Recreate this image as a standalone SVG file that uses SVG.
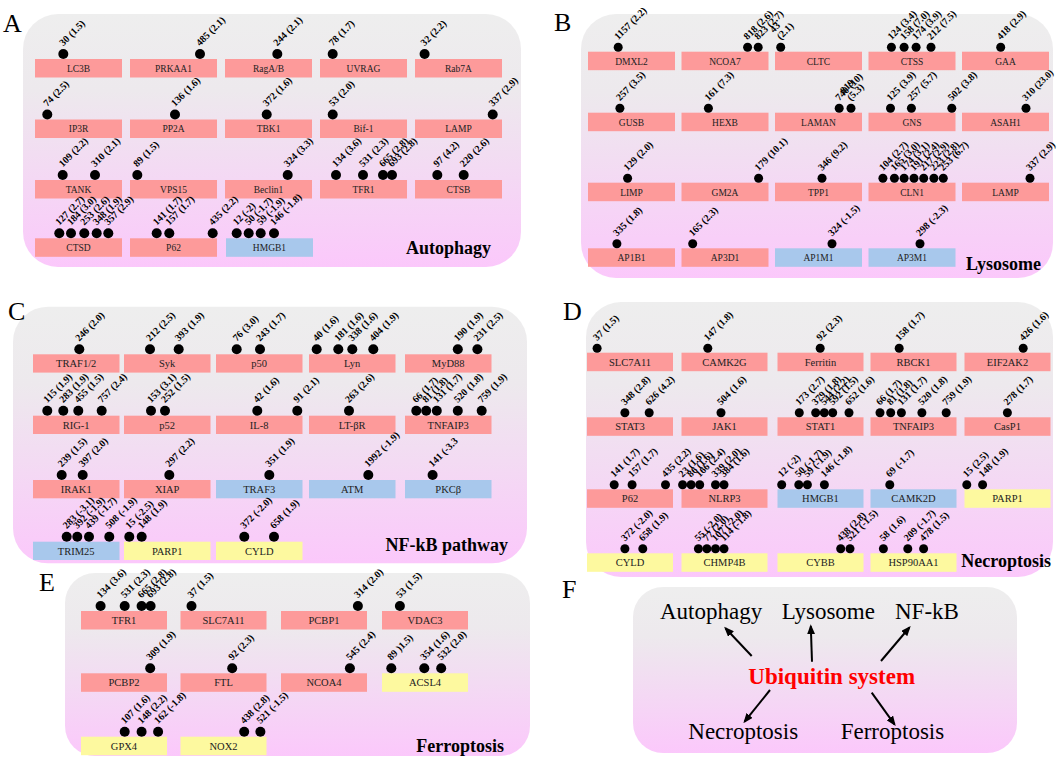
<svg xmlns="http://www.w3.org/2000/svg" width="1059" height="758" viewBox="0 0 1059 758">
<defs>
<linearGradient id="pg" x1="0" y1="0" x2="0" y2="1">
<stop offset="0" stop-color="#eeeeee"/>
<stop offset="0.3" stop-color="#ede9ed"/>
<stop offset="1" stop-color="#fbc8fb"/>
</linearGradient>
<marker id="ah" viewBox="0 0 10 8" refX="8" refY="4" markerWidth="10" markerHeight="8" markerUnits="userSpaceOnUse" orient="auto">
<path d="M0,0 L10,4 L0,8 z" fill="#000"/>
</marker>
<style>
.pn{fill:url(#pg)}
.r{fill:#fd9a9a}.b{fill:#a8c8ec}.y{fill:#fdf99f}
.g{font-family:"Liberation Serif","Times New Roman",serif;font-size:9.5px;text-anchor:middle;fill:#222}
.g2{font-size:10.5px}
.l{font-family:"Liberation Serif","Times New Roman",serif;font-size:10px;font-weight:bold;fill:#000}
.d{fill:#000}
.t{font-family:"Liberation Serif","Times New Roman",serif;font-weight:bold;font-size:18px;text-anchor:end;fill:#000}
.L{font-family:"Liberation Serif","Times New Roman",serif;font-size:26px;fill:#000}
.f{font-family:"Liberation Serif","Times New Roman",serif;font-size:23px;fill:#000}
.u{font-family:"Liberation Serif","Times New Roman",serif;font-size:23px;font-weight:bold;fill:#ff0000}
.c{stroke:#000;stroke-width:2;fill:none;marker-end:url(#ah)}
</style>
</defs>

<!-- Panel A -->
<g id="panelA">
<rect class="pn" x="23" y="14" width="498" height="253" rx="35"/>
<text class="L" x="3" y="32">A</text>
<text class="t" x="491" y="254">Autophagy</text>
<g id="A-LC3B"><rect class="r" x="35" y="59" width="87" height="18.5"/><text class="g" x="78.5" y="71.8">LC3B</text><circle class="d" cx="63.3" cy="54" r="5"/><text class="l" transform="translate(63.3,46.5) rotate(-45)">30 (1.5)</text></g>
<g id="A-PRKAA1"><rect class="r" x="130" y="59" width="87" height="18.5"/><text class="g" x="173.5" y="71.8">PRKAA1</text><circle class="d" cx="200" cy="54" r="5"/><text class="l" transform="translate(200,46.5) rotate(-45)">485 (2.1)</text></g>
<g id="A-RagAB"><rect class="r" x="225" y="59" width="87" height="18.5"/><text class="g" x="268.5" y="71.8">RagA/B</text><circle class="d" cx="277.3" cy="54" r="5"/><text class="l" transform="translate(277.3,46.5) rotate(-45)">244 (2.1)</text></g>
<g id="A-UVRAG"><rect class="r" x="320" y="59" width="87" height="18.5"/><text class="g" x="363.5" y="71.8">UVRAG</text><circle class="d" cx="332.7" cy="54" r="5"/><text class="l" transform="translate(332.7,46.5) rotate(-45)">78 (1.7)</text></g>
<g id="A-Rab7A"><rect class="r" x="415" y="59" width="87" height="18.5"/><text class="g" x="458.5" y="71.8">Rab7A</text><circle class="d" cx="424.6" cy="54" r="5"/><text class="l" transform="translate(424.6,46.5) rotate(-45)">32 (2.2)</text></g>

<g id="A-IP3R"><rect class="r" x="35" y="119.5" width="87" height="18.5"/><text class="g" x="78.5" y="132.3">IP3R</text><circle class="d" cx="47.3" cy="114.5" r="5"/><text class="l" transform="translate(47.3,107) rotate(-45)">74 (2.5)</text></g>
<g id="A-PP2A"><rect class="r" x="130" y="119.5" width="87" height="18.5"/><text class="g" x="173.5" y="132.3">PP2A</text><circle class="d" cx="175" cy="114.5" r="5"/><text class="l" transform="translate(175,107) rotate(-45)">136 (1.6)</text></g>
<g id="A-TBK1"><rect class="r" x="225" y="119.5" width="87" height="18.5"/><text class="g" x="268.5" y="132.3">TBK1</text><circle class="d" cx="266.7" cy="114.5" r="5"/><text class="l" transform="translate(266.7,107) rotate(-45)">372 (1.6)</text></g>
<g id="A-Bif1"><rect class="r" x="320" y="119.5" width="87" height="18.5"/><text class="g" x="363.5" y="132.3">Bif-1</text><circle class="d" cx="332.7" cy="114.5" r="5"/><text class="l" transform="translate(332.7,107) rotate(-45)">53 (2.0)</text></g>
<g id="A-LAMP"><rect class="r" x="415" y="119.5" width="87" height="18.5"/><text class="g" x="458.5" y="132.3">LAMP</text><circle class="d" cx="492.7" cy="114.5" r="5"/><text class="l" transform="translate(492.7,107) rotate(-45)">337 (2.9)</text></g>

<g id="A-TANK"><rect class="r" x="35" y="180" width="87" height="18.5"/><text class="g" x="78.5" y="192.8">TANK</text>
<circle class="d" cx="62.7" cy="175" r="5"/><text class="l" transform="translate(62.7,167.5) rotate(-45)">109 (2.2)</text>
<circle class="d" cx="95" cy="175" r="5"/><text class="l" transform="translate(95,167.5) rotate(-45)">310 (2.1)</text></g>
<g id="A-VPS15"><rect class="r" x="130" y="180" width="87" height="18.5"/><text class="g" x="173.5" y="192.8">VPS15</text><circle class="d" cx="137.3" cy="175" r="5"/><text class="l" transform="translate(137.3,167.5) rotate(-45)">89 (1.5)</text></g>
<g id="A-Beclin1"><rect class="r" x="225" y="180" width="87" height="18.5"/><text class="g" x="268.5" y="192.8">Beclin1</text><circle class="d" cx="287.7" cy="175" r="5"/><text class="l" transform="translate(287.7,167.5) rotate(-45)">324 (3.3)</text></g>
<g id="A-TFR1"><rect class="r" x="320" y="180" width="87" height="18.5"/><text class="g" x="363.5" y="192.8">TFR1</text>
<circle class="d" cx="336" cy="175" r="5"/><text class="l" transform="translate(336,167.5) rotate(-45)">134 (3.6)</text>
<circle class="d" cx="363" cy="175" r="5"/><text class="l" transform="translate(363,167.5) rotate(-45)">531 (2.3)</text>
<circle class="d" cx="383" cy="175" r="5"/><text class="l" transform="translate(383,167.5) rotate(-45)">665 (2.8)</text>
<circle class="d" cx="392" cy="175" r="5"/><text class="l" transform="translate(392,167.5) rotate(-45)">693 (2.8)</text></g>
<g id="A-CTSB"><rect class="r" x="415" y="180" width="87" height="18.5"/><text class="g" x="458.5" y="192.8">CTSB</text>
<circle class="d" cx="437.3" cy="175" r="5"/><text class="l" transform="translate(437.3,167.5) rotate(-45)">97 (4.2)</text>
<circle class="d" cx="463.7" cy="175" r="5"/><text class="l" transform="translate(463.7,167.5) rotate(-45)">220 (2.6)</text></g>

<g id="A-CTSD"><rect class="r" x="35" y="238.3" width="87" height="18.5"/><text class="g" x="78.5" y="251.1">CTSD</text>
<circle class="d" cx="59.3" cy="233.3" r="5"/><text class="l" transform="translate(59.3,225.8) rotate(-45)">127 (2.7)</text>
<circle class="d" cx="71" cy="233.3" r="5"/><text class="l" transform="translate(71,225.8) rotate(-45)">184 (3.0)</text>
<circle class="d" cx="84.3" cy="233.3" r="5"/><text class="l" transform="translate(84.3,225.8) rotate(-45)">253 (2.6)</text>
<circle class="d" cx="96.7" cy="233.3" r="5"/><text class="l" transform="translate(96.7,225.8) rotate(-45)">348 (1.9)</text>
<circle class="d" cx="108.3" cy="233.3" r="5"/><text class="l" transform="translate(108.3,225.8) rotate(-45)">357 (2.9)</text></g>
<g id="A-P62"><rect class="r" x="130" y="238.3" width="87" height="18.5"/><text class="g" x="173.5" y="251.1">P62</text>
<circle class="d" cx="156.7" cy="233.3" r="5"/><text class="l" transform="translate(156.7,225.8) rotate(-45)">141 (1.7)</text>
<circle class="d" cx="169.3" cy="233.3" r="5"/><text class="l" transform="translate(169.3,225.8) rotate(-45)">157 (1.7)</text>
<circle class="d" cx="212.7" cy="233.3" r="5"/><text class="l" transform="translate(212.7,225.8) rotate(-45)">435 (2.2)</text></g>
<g id="A-HMGB1"><rect class="b" x="226" y="238.3" width="87" height="18.5"/><text class="g" x="269.5" y="251.1">HMGB1</text>
<circle class="d" cx="236.7" cy="233.3" r="5"/><text class="l" transform="translate(236.7,225.8) rotate(-45)">12 (-2)</text>
<circle class="d" cx="248.7" cy="233.3" r="5"/><text class="l" transform="translate(248.7,225.8) rotate(-45)">50 (-1.7)</text>
<circle class="d" cx="260.7" cy="233.3" r="5"/><text class="l" transform="translate(260.7,225.8) rotate(-45)">59 (-1.9)</text>
<circle class="d" cx="274" cy="233.3" r="5"/><text class="l" transform="translate(274,225.8) rotate(-45)">146 (-1.8)</text></g>
</g>

<!-- Panel B -->
<g id="panelB">
<rect class="pn" x="581" y="14" width="472" height="264" rx="35"/>
<text class="L" x="554" y="31">B</text>
<text class="t" x="1041" y="270">Lysosome</text>
<g id="B-DMXL2"><rect class="r" x="588" y="51.7" width="87" height="18.5"/><text class="g" x="631.5" y="64.5">DMXL2</text><circle class="d" cx="618.2" cy="47.2" r="4.5"/><text class="l" transform="translate(618.2,40.2) rotate(-45)">1157 (2.2)</text></g>
<g id="B-NCOA7"><rect class="r" x="681.5" y="51.7" width="87" height="18.5"/><text class="g" x="725" y="64.5">NCOA7</text>
<circle class="d" cx="747.6" cy="47.2" r="4.5"/><text class="l" transform="translate(747.6,40.2) rotate(-45)">818 (2.6)</text>
<circle class="d" cx="758.2" cy="47.2" r="4.5"/><text class="l" transform="translate(758.2,40.2) rotate(-45)">823 (2.7)</text></g>
<g id="B-CLTC"><rect class="r" x="775" y="51.7" width="87" height="18.5"/><text class="g" x="818.5" y="64.5">CLTC</text>
<circle class="d" cx="780.7" cy="47.2" r="4.5"/><text class="l" transform="translate(780.7,40.2) rotate(-45)"><tspan x="0" y="-10">43</tspan><tspan x="0" y="0">(2.1)</tspan></text></g>
<g id="B-CTSS"><rect class="r" x="868.5" y="51.7" width="87" height="18.5"/><text class="g" x="912" y="64.5">CTSS</text>
<circle class="d" cx="891.4" cy="47.2" r="4.5"/><text class="l" transform="translate(891.4,40.2) rotate(-45)">124 (3.4)</text>
<circle class="d" cx="904.1" cy="47.2" r="4.5"/><text class="l" transform="translate(904.1,40.2) rotate(-45)">158 (7.0)</text>
<circle class="d" cx="916.1" cy="47.2" r="4.5"/><text class="l" transform="translate(916.1,40.2) rotate(-45)">174 (3.9)</text>
<circle class="d" cx="931" cy="47.2" r="4.5"/><text class="l" transform="translate(931,40.2) rotate(-45)">212 (7.5)</text></g>
<g id="B-GAA"><rect class="r" x="962" y="51.7" width="87" height="18.5"/><text class="g" x="1005.5" y="64.5">GAA</text><circle class="d" cx="1000.7" cy="47.2" r="4.5"/><text class="l" transform="translate(1000.7,40.2) rotate(-45)">418 (2.9)</text></g>

<g id="B-GUSB"><rect class="r" x="588" y="112.7" width="87" height="18.5"/><text class="g" x="631.5" y="125.5">GUSB</text><circle class="d" cx="619.9" cy="108.2" r="4.5"/><text class="l" transform="translate(619.9,101.2) rotate(-45)">257 (3.5)</text></g>
<g id="B-HEXB"><rect class="r" x="681.5" y="112.7" width="87" height="18.5"/><text class="g" x="725" y="125.5">HEXB</text><circle class="d" cx="708.4" cy="108.2" r="4.5"/><text class="l" transform="translate(708.4,101.2) rotate(-45)">161 (7.3)</text></g>
<g id="B-LAMAN"><rect class="r" x="775" y="112.7" width="87" height="18.5"/><text class="g" x="818.5" y="125.5">LAMAN</text>
<circle class="d" cx="839.2" cy="108.2" r="4.5"/><text class="l" transform="translate(839.2,101.2) rotate(-45)">740 (10)</text>
<circle class="d" cx="851" cy="108.2" r="4.5"/><text class="l" transform="translate(851,101.2) rotate(-45)"><tspan x="0" y="-10">819</tspan><tspan x="0" y="0">(5.3)</tspan></text></g>
<g id="B-GNS"><rect class="r" x="868.5" y="112.7" width="87" height="18.5"/><text class="g" x="912" y="125.5">GNS</text>
<circle class="d" cx="890.5" cy="108.2" r="4.5"/><text class="l" transform="translate(890.5,101.2) rotate(-45)">125 (3.9)</text>
<circle class="d" cx="911.4" cy="108.2" r="4.5"/><text class="l" transform="translate(911.4,101.2) rotate(-45)">257 (5.7)</text>
<circle class="d" cx="951.8" cy="108.2" r="4.5"/><text class="l" transform="translate(951.8,101.2) rotate(-45)">502 (3.8)</text></g>
<g id="B-ASAH1"><rect class="r" x="962" y="112.7" width="87" height="18.5"/><text class="g" x="1005.5" y="125.5">ASAH1</text><circle class="d" cx="1026" cy="108.2" r="4.5"/><text class="l" style="font-size:9.5px" transform="translate(1026,101.2) rotate(-45)">310 (23.0)</text></g>

<g id="B-LIMP"><rect class="r" x="588" y="182.7" width="87" height="18.5"/><text class="g" x="631.5" y="195.5">LIMP</text><circle class="d" cx="627.6" cy="178.2" r="4.5"/><text class="l" transform="translate(627.6,171.2) rotate(-45)">129 (2.0)</text></g>
<g id="B-GM2A"><rect class="r" x="681.5" y="182.7" width="87" height="18.5"/><text class="g" x="725" y="195.5">GM2A</text><circle class="d" cx="758.6" cy="178.2" r="4.5"/><text class="l" transform="translate(758.6,171.2) rotate(-45)">179 (10.1)</text></g>
<g id="B-TPP1"><rect class="r" x="775" y="182.7" width="87" height="18.5"/><text class="g" x="818.5" y="195.5">TPP1</text><circle class="d" cx="822" cy="178.2" r="4.5"/><text class="l" transform="translate(822,171.2) rotate(-45)">346 (9.2)</text></g>
<g id="B-CLN1"><rect class="r" x="868.5" y="182.7" width="87" height="18.5"/><text class="g" x="912" y="195.5">CLN1</text>
<circle class="d" cx="882.9" cy="178.2" r="4.5"/><text class="l" transform="translate(882.9,171.2) rotate(-45)">104 (2.7)</text>
<circle class="d" cx="894.4" cy="178.2" r="4.5"/><text class="l" transform="translate(894.4,171.2) rotate(-45)">165 (3.0)</text>
<circle class="d" cx="904.1" cy="178.2" r="4.5"/><text class="l" transform="translate(904.1,171.2) rotate(-45)">174 (3.1)</text>
<circle class="d" cx="914" cy="178.2" r="4.5"/><text class="l" transform="translate(914,171.2) rotate(-45)">191 (2.4)</text>
<circle class="d" cx="923.7" cy="178.2" r="4.5"/><text class="l" transform="translate(923.7,171.2) rotate(-45)">217 (2.9)</text>
<circle class="d" cx="933.9" cy="178.2" r="4.5"/><text class="l" transform="translate(933.9,171.2) rotate(-45)">223 (2.8)</text>
<circle class="d" cx="943.3" cy="178.2" r="4.5"/><text class="l" transform="translate(943.3,171.2) rotate(-45)">253 (6.7)</text></g>
<g id="B-LAMP"><rect class="r" x="962" y="182.7" width="87" height="18.5"/><text class="g" x="1005.5" y="195.5">LAMP</text><circle class="d" cx="1030" cy="178.2" r="4.5"/><text class="l" transform="translate(1030,171.2) rotate(-45)">337 (2.9)</text></g>

<g id="B-AP1B1"><rect class="r" x="588" y="248.3" width="87" height="18.5"/><text class="g" x="631.5" y="261.1">AP1B1</text><circle class="d" cx="616.9" cy="243.8" r="4.5"/><text class="l" transform="translate(616.9,236.8) rotate(-45)">335 (1.8)</text></g>
<g id="B-AP3D1"><rect class="r" x="681.5" y="248.3" width="87" height="18.5"/><text class="g" x="725" y="261.1">AP3D1</text><circle class="d" cx="692.7" cy="243.8" r="4.5"/><text class="l" transform="translate(692.7,236.8) rotate(-45)">165 (2.3)</text></g>
<g id="B-AP1M1"><rect class="b" x="775" y="248.3" width="87" height="18.5"/><text class="g" x="818.5" y="261.1">AP1M1</text><circle class="d" cx="832" cy="243.8" r="4.5"/><text class="l" transform="translate(832,236.8) rotate(-45)">324 (-1.5)</text></g>
<g id="B-AP3M1"><rect class="b" x="868.5" y="248.3" width="87" height="18.5"/><text class="g" x="912" y="261.1">AP3M1</text><circle class="d" cx="920" cy="243.8" r="4.5"/><text class="l" transform="translate(920,236.8) rotate(-45)">298 (-2.3)</text></g>
</g>

<!-- Panel C -->
<g id="panelC">
<rect class="pn" x="13" y="306.7" width="514" height="256.6" rx="35"/>
<text class="L" x="8" y="320">C</text>
<text class="t" x="508" y="551">NF-kB pathway</text>
<g id="C-TRAF12"><rect class="r" x="33" y="354.3" width="86.5" height="18.3"/><text class="g g2" x="76.2" y="367.3">TRAF1/2</text><circle class="d" cx="79.3" cy="349.3" r="5"/><text class="l" transform="translate(79.3,341.8) rotate(-45)">246 (2.0)</text></g>
<g id="C-Syk"><rect class="r" x="124" y="354.3" width="86.5" height="18.3"/><text class="g g2" x="167.2" y="367.3">Syk</text>
<circle class="d" cx="150" cy="349.3" r="5"/><text class="l" transform="translate(150,341.8) rotate(-45)">212 (2.5)</text>
<circle class="d" cx="178.7" cy="349.3" r="5"/><text class="l" transform="translate(178.7,341.8) rotate(-45)">393 (1.9)</text></g>
<g id="C-p50"><rect class="r" x="216" y="354.3" width="86.5" height="18.3"/><text class="g g2" x="259.2" y="367.3">p50</text>
<circle class="d" cx="236.7" cy="349.3" r="5"/><text class="l" transform="translate(236.7,341.8) rotate(-45)">76 (3.0)</text>
<circle class="d" cx="260" cy="349.3" r="5"/><text class="l" transform="translate(260,341.8) rotate(-45)">243 (1.7)</text></g>
<g id="C-Lyn"><rect class="r" x="309" y="354.3" width="86.5" height="18.3"/><text class="g g2" x="352.2" y="367.3">Lyn</text>
<circle class="d" cx="316.7" cy="349.3" r="5"/><text class="l" transform="translate(316.7,341.8) rotate(-45)">40 (1.6)</text>
<circle class="d" cx="338.3" cy="349.3" r="5"/><text class="l" transform="translate(338.3,341.8) rotate(-45)">181 (1.6)</text>
<circle class="d" cx="352.3" cy="349.3" r="5"/><text class="l" transform="translate(352.3,341.8) rotate(-45)">338 (1.6)</text>
<circle class="d" cx="373.3" cy="349.3" r="5"/><text class="l" transform="translate(373.3,341.8) rotate(-45)">404 (1.9)</text></g>
<g id="C-MyD88"><rect class="r" x="405" y="354.3" width="86.5" height="18.3"/><text class="g g2" x="448.2" y="367.3">MyD88</text>
<circle class="d" cx="457.8" cy="349.3" r="5"/><text class="l" transform="translate(457.8,341.8) rotate(-45)">190 (1.9)</text>
<circle class="d" cx="477.4" cy="349.3" r="5"/><text class="l" transform="translate(477.4,341.8) rotate(-45)">231 (2.5)</text></g>

<g id="C-RIG1"><rect class="r" x="33" y="415.7" width="86.5" height="18.3"/><text class="g g2" x="76.2" y="428.7">RIG-1</text>
<circle class="d" cx="47.3" cy="410.7" r="5"/><text class="l" transform="translate(47.3,403.2) rotate(-45)">115 (1.9)</text>
<circle class="d" cx="63.3" cy="410.7" r="5"/><text class="l" transform="translate(63.3,403.2) rotate(-45)">283 (1.9)</text>
<circle class="d" cx="78.3" cy="410.7" r="5"/><text class="l" transform="translate(78.3,403.2) rotate(-45)">455 (1.5)</text>
<circle class="d" cx="101.7" cy="410.7" r="5"/><text class="l" transform="translate(101.7,403.2) rotate(-45)">757 (2.4)</text></g>
<g id="C-p52"><rect class="r" x="124" y="415.7" width="86.5" height="18.3"/><text class="g g2" x="167.2" y="428.7">p52</text>
<circle class="d" cx="151" cy="410.7" r="5"/><text class="l" transform="translate(151,403.2) rotate(-45)">153 (3.1)</text>
<circle class="d" cx="165" cy="410.7" r="5"/><text class="l" transform="translate(165,403.2) rotate(-45)">252 (1.5)</text></g>
<g id="C-IL8"><rect class="r" x="216" y="415.7" width="86.5" height="18.3"/><text class="g g2" x="259.2" y="428.7">IL-8</text>
<circle class="d" cx="257.3" cy="410.7" r="5"/><text class="l" transform="translate(257.3,403.2) rotate(-45)">42 (1.6)</text>
<circle class="d" cx="297.3" cy="410.7" r="5"/><text class="l" transform="translate(297.3,403.2) rotate(-45)">91 (2.1)</text></g>
<g id="C-LTbR"><rect class="r" x="309" y="415.7" width="86.5" height="18.3"/><text class="g g2" x="352.2" y="428.7">LT-βR</text><circle class="d" cx="349" cy="410.7" r="5"/><text class="l" transform="translate(349,403.2) rotate(-45)">263 (2.6)</text></g>
<g id="C-TNFAIP3"><rect class="r" x="405" y="415.7" width="86.5" height="18.3"/><text class="g g2" x="448.2" y="428.7">TNFAIP3</text>
<circle class="d" cx="416.3" cy="410.7" r="5"/><text class="l" transform="translate(416.3,403.2) rotate(-45)">66 (1.7)</text>
<circle class="d" cx="426.2" cy="410.7" r="5"/><text class="l" transform="translate(426.2,403.2) rotate(-45)">81 (1.8)</text>
<circle class="d" cx="436.8" cy="410.7" r="5"/><text class="l" transform="translate(436.8,403.2) rotate(-45)">131 (1.7)</text>
<circle class="d" cx="457.8" cy="410.7" r="5"/><text class="l" transform="translate(457.8,403.2) rotate(-45)">520 (1.8)</text>
<circle class="d" cx="481.7" cy="410.7" r="5"/><text class="l" transform="translate(481.7,403.2) rotate(-45)">759 (1.9)</text></g>

<g id="C-IRAK1"><rect class="r" x="33" y="480" width="86.5" height="18.3"/><text class="g g2" x="76.2" y="493">IRAK1</text>
<circle class="d" cx="61.7" cy="475" r="5"/><text class="l" transform="translate(61.7,467.5) rotate(-45)">239 (1.5)</text>
<circle class="d" cx="82.7" cy="475" r="5"/><text class="l" transform="translate(82.7,467.5) rotate(-45)">397 (2.0)</text></g>
<g id="C-XIAP"><rect class="r" x="124" y="480" width="86.5" height="18.3"/><text class="g g2" x="167.2" y="493">XIAP</text><circle class="d" cx="169.3" cy="475" r="5"/><text class="l" transform="translate(169.3,467.5) rotate(-45)">297 (2.2)</text></g>
<g id="C-TRAF3"><rect class="b" x="216" y="480" width="86.5" height="18.3"/><text class="g g2" x="259.2" y="493">TRAF3</text><circle class="d" cx="269.3" cy="475" r="5"/><text class="l" transform="translate(269.3,467.5) rotate(-45)">351 (1.9)</text></g>
<g id="C-ATM"><rect class="b" x="309" y="480" width="86.5" height="18.3"/><text class="g g2" x="352.2" y="493">ATM</text><circle class="d" cx="368.3" cy="475" r="5"/><text class="l" transform="translate(368.3,467.5) rotate(-45)">1992 (-1.9)</text></g>
<g id="C-PKCb"><rect class="b" x="405" y="480" width="86.5" height="18.3"/><text class="g g2" x="448.2" y="493">PKCβ</text><circle class="d" cx="432.6" cy="475" r="5"/><text class="l" transform="translate(432.6,467.5) rotate(-45)">141 (-3.3</text></g>

<g id="C-TRIM25"><rect class="b" x="33" y="541.7" width="86.5" height="18.3"/><text class="g g2" x="76.2" y="554.7">TRIM25</text>
<circle class="d" cx="66.7" cy="536.7" r="5"/><text class="l" transform="translate(66.7,529.2) rotate(-45)">283 (-3.1)</text>
<circle class="d" cx="77.3" cy="536.7" r="5"/><text class="l" transform="translate(77.3,529.2) rotate(-45)">392 (-1.9)</text>
<circle class="d" cx="89" cy="536.7" r="5"/><text class="l" transform="translate(89,529.2) rotate(-45)">439 (-1.7)</text>
<circle class="d" cx="109.3" cy="536.7" r="5"/><text class="l" transform="translate(109.3,529.2) rotate(-45)">508 (-1.9)</text></g>
<g id="C-PARP1"><rect class="y" x="124" y="541.7" width="86.5" height="18.3"/><text class="g g2" x="167.2" y="554.7">PARP1</text>
<circle class="d" cx="129.3" cy="536.7" r="5"/><text class="l" transform="translate(129.3,529.2) rotate(-45)">15 (-2.5)</text>
<circle class="d" cx="141.7" cy="536.7" r="5"/><text class="l" transform="translate(141.7,529.2) rotate(-45)">148 (1.9)</text></g>
<g id="C-CYLD"><rect class="y" x="216" y="541.7" width="86.5" height="18.3"/><text class="g g2" x="259.2" y="554.7">CYLD</text>
<circle class="d" cx="244.3" cy="536.7" r="5"/><text class="l" transform="translate(244.3,529.2) rotate(-45)">372 (-2.0)</text>
<circle class="d" cx="274" cy="536.7" r="5"/><text class="l" transform="translate(274,529.2) rotate(-45)">658 (1.9)</text></g>
</g>

<!-- Panel D -->
<g id="panelD">
<rect class="pn" x="586" y="302" width="467" height="275" rx="35"/>
<text class="L" x="563" y="320">D</text>
<text class="t" x="1051" y="567">Necroptosis</text>
<g id="D-SLC7A11"><rect class="r" x="587" y="352.7" width="86" height="18.5"/><text class="g g2" x="630" y="365.7">SLC7A11</text><circle class="d" cx="597.1" cy="348.2" r="4.5"/><text class="l" transform="translate(597.1,341.2) rotate(-45)">37 (1.5)</text></g>
<g id="D-CAMK2G"><rect class="r" x="681.5" y="352.7" width="86" height="18.5"/><text class="g g2" x="724.5" y="365.7">CAMK2G</text><circle class="d" cx="707.8" cy="348.2" r="4.5"/><text class="l" transform="translate(707.8,341.2) rotate(-45)">147 (1.8)</text></g>
<g id="D-Ferritin"><rect class="r" x="777.5" y="352.7" width="86" height="18.5"/><text class="g g2" x="820.5" y="365.7">Ferritin</text><circle class="d" cx="820.2" cy="348.2" r="4.5"/><text class="l" transform="translate(820.2,341.2) rotate(-45)">92 (2.3)</text></g>
<g id="D-RBCK1"><rect class="r" x="870.5" y="352.7" width="86" height="18.5"/><text class="g g2" x="913.5" y="365.7">RBCK1</text><circle class="d" cx="899.2" cy="348.2" r="4.5"/><text class="l" transform="translate(899.2,341.2) rotate(-45)">158 (1.7)</text></g>
<g id="D-EIF2AK2"><rect class="r" x="964.5" y="352.7" width="86" height="18.5"/><text class="g g2" x="1007.5" y="365.7">EIF2AK2</text><circle class="d" cx="1023.2" cy="348.2" r="4.5"/><text class="l" transform="translate(1023.2,341.2) rotate(-45)">426 (1.6)</text></g>

<g id="D-STAT3"><rect class="r" x="587" y="417.3" width="86" height="18.5"/><text class="g g2" x="630" y="430.3">STAT3</text>
<circle class="d" cx="624.9" cy="412.8" r="4.5"/><text class="l" transform="translate(624.9,405.8) rotate(-45)">348 (2.8)</text>
<circle class="d" cx="649.2" cy="412.8" r="4.5"/><text class="l" transform="translate(649.2,405.8) rotate(-45)">626 (4.2)</text></g>
<g id="D-JAK1"><rect class="r" x="681.5" y="417.3" width="86" height="18.5"/><text class="g g2" x="724.5" y="430.3">JAK1</text><circle class="d" cx="721" cy="412.8" r="4.5"/><text class="l" transform="translate(721,405.8) rotate(-45)">504 (1.6)</text></g>
<g id="D-STAT1"><rect class="r" x="777.5" y="417.3" width="86" height="18.5"/><text class="g g2" x="820.5" y="430.3">STAT1</text>
<circle class="d" cx="799.3" cy="412.8" r="4.5"/><text class="l" transform="translate(799.3,405.8) rotate(-45)">173 (2.7)</text>
<circle class="d" cx="815.7" cy="412.8" r="4.5"/><text class="l" transform="translate(815.7,405.8) rotate(-45)">379 (1.8)</text>
<circle class="d" cx="824.3" cy="412.8" r="4.5"/><text class="l" transform="translate(824.3,405.8) rotate(-45)">544 (2.2)</text>
<circle class="d" cx="832.7" cy="412.8" r="4.5"/><text class="l" transform="translate(832.7,405.8) rotate(-45)">592 (1.5)</text>
<circle class="d" cx="849" cy="412.8" r="4.5"/><text class="l" transform="translate(849,405.8) rotate(-45)">652 (1.6)</text></g>
<g id="D-TNFAIP3"><rect class="r" x="870.5" y="417.3" width="86" height="18.5"/><text class="g g2" x="913.5" y="430.3">TNFAIP3</text>
<circle class="d" cx="880" cy="412.8" r="4.5"/><text class="l" transform="translate(880,405.8) rotate(-45)">66 (1.7)</text>
<circle class="d" cx="890.7" cy="412.8" r="4.5"/><text class="l" transform="translate(890.7,405.8) rotate(-45)">81 (1.8)</text>
<circle class="d" cx="901.4" cy="412.8" r="4.5"/><text class="l" transform="translate(901.4,405.8) rotate(-45)">131 (1.7)</text>
<circle class="d" cx="921.9" cy="412.8" r="4.5"/><text class="l" transform="translate(921.9,405.8) rotate(-45)">520 (1.8)</text>
<circle class="d" cx="946.2" cy="412.8" r="4.5"/><text class="l" transform="translate(946.2,405.8) rotate(-45)">759 (1.9)</text></g>
<g id="D-CasP1"><rect class="r" x="964.5" y="417.3" width="86" height="18.5"/><text class="g g2" x="1007.5" y="430.3">CasP1</text><circle class="d" cx="1007.4" cy="412.8" r="4.5"/><text class="l" transform="translate(1007.4,405.8) rotate(-45)">278 (1.7)</text></g>

<g id="D-P62"><rect class="r" x="587" y="489.3" width="86" height="18.5"/><text class="g g2" x="630" y="502.3">P62</text>
<circle class="d" cx="614.2" cy="484.8" r="4.5"/><text class="l" transform="translate(614.2,477.8) rotate(-45)">141 (1.7)</text>
<circle class="d" cx="632.1" cy="484.8" r="4.5"/><text class="l" transform="translate(632.1,477.8) rotate(-45)">157 (1.7)</text>
<circle class="d" cx="665.5" cy="484.8" r="4.5"/><text class="l" transform="translate(665.5,477.8) rotate(-45)">435 (2.2)</text></g>
<g id="D-NLRP3"><rect class="r" x="681.5" y="489.3" width="86" height="18.5"/><text class="g g2" x="724.5" y="502.3">NLRP3</text>
<circle class="d" cx="682.6" cy="484.8" r="4.5"/><text class="l" transform="translate(682.6,477.8) rotate(-45)">23 (1.6)</text>
<circle class="d" cx="691.1" cy="484.8" r="4.5"/><text class="l" transform="translate(691.1,477.8) rotate(-45)">86 (1.6)</text>
<circle class="d" cx="699.7" cy="484.8" r="4.5"/><text class="l" transform="translate(699.7,477.8) rotate(-45)">166 (2.4)</text>
<circle class="d" cx="715.5" cy="484.8" r="4.5"/><text class="l" transform="translate(715.5,477.8) rotate(-45)">339 (2.0)</text>
<circle class="d" cx="724" cy="484.8" r="4.5"/><text class="l" transform="translate(724,477.8) rotate(-45)">384 (1.6)</text></g>
<g id="D-HMGB1"><rect class="b" x="777.5" y="489.3" width="86" height="18.5"/><text class="g g2" x="820.5" y="502.3">HMGB1</text>
<circle class="d" cx="781.7" cy="484.8" r="4.5"/><text class="l" transform="translate(781.7,477.8) rotate(-45)">12 (-2)</text>
<circle class="d" cx="798.8" cy="484.8" r="4.5"/><text class="l" transform="translate(798.8,477.8) rotate(-45)">50 (-1.7)</text>
<circle class="d" cx="807.4" cy="484.8" r="4.5"/><text class="l" transform="translate(807.4,477.8) rotate(-45)">59 (-1.9)</text>
<circle class="d" cx="824.4" cy="484.8" r="4.5"/><text class="l" transform="translate(824.4,477.8) rotate(-45)">146 (-1.8)</text></g>
<g id="D-CAMK2D"><rect class="b" x="870.5" y="489.3" width="86" height="18.5"/><text class="g g2" x="913.5" y="502.3">CAMK2D</text><circle class="d" cx="889.8" cy="484.8" r="4.5"/><text class="l" transform="translate(889.8,477.8) rotate(-45)">69 (-1.7)</text></g>
<g id="D-PARP1"><rect class="y" x="964.5" y="489.3" width="86" height="18.5"/><text class="g g2" x="1007.5" y="502.3">PARP1</text>
<circle class="d" cx="966.8" cy="484.8" r="4.5"/><text class="l" transform="translate(966.8,477.8) rotate(-45)">15 (2.5)</text>
<circle class="d" cx="982.6" cy="484.8" r="4.5"/><text class="l" transform="translate(982.6,477.8) rotate(-45)">148 (1.9)</text></g>

<g id="D-CYLD"><rect class="y" x="587" y="553.3" width="86" height="18.5"/><text class="g g2" x="630" y="566.3">CYLD</text>
<circle class="d" cx="624.9" cy="548.8" r="4.5"/><text class="l" transform="translate(624.9,541.8) rotate(-45)">372 (-2.0)</text>
<circle class="d" cx="642.8" cy="548.8" r="4.5"/><text class="l" transform="translate(642.8,541.8) rotate(-45)">658 (1.9)</text></g>
<g id="D-CHMP4B"><rect class="y" x="681.5" y="553.3" width="86" height="18.5"/><text class="g g2" x="724.5" y="566.3">CHMP4B</text>
<circle class="d" cx="698.4" cy="548.8" r="4.5"/><text class="l" transform="translate(698.4,541.8) rotate(-45)">55 (-2.0)</text>
<circle class="d" cx="706.9" cy="548.8" r="4.5"/><text class="l" transform="translate(706.9,541.8) rotate(-45)">77 (2.0)</text>
<circle class="d" cx="715.5" cy="548.8" r="4.5"/><text class="l" transform="translate(715.5,541.8) rotate(-45)">107 (-2.0)</text>
<circle class="d" cx="724" cy="548.8" r="4.5"/><text class="l" transform="translate(724,541.8) rotate(-45)">114 (-1.8)</text></g>
<g id="D-CYBB"><rect class="y" x="777.5" y="553.3" width="86" height="18.5"/><text class="g g2" x="820.5" y="566.3">CYBB</text>
<circle class="d" cx="840.7" cy="548.8" r="4.5"/><text class="l" transform="translate(840.7,541.8) rotate(-45)">438 (2.8)</text>
<circle class="d" cx="850" cy="548.8" r="4.5"/><text class="l" transform="translate(850,541.8) rotate(-45)">521 (-1.5)</text></g>
<g id="D-HSP90AA1"><rect class="y" x="870.5" y="553.3" width="86" height="18.5"/><text class="g g2" x="913.5" y="566.3">HSP90AA1</text>
<circle class="d" cx="883.4" cy="548.8" r="4.5"/><text class="l" transform="translate(883.4,541.8) rotate(-45)">58 (1.6)</text>
<circle class="d" cx="907.8" cy="548.8" r="4.5"/><text class="l" transform="translate(907.8,541.8) rotate(-45)">209 (-1.7)</text>
<circle class="d" cx="923.6" cy="548.8" r="4.5"/><text class="l" transform="translate(923.6,541.8) rotate(-45)">478 (1.5)</text></g>
</g>

<!-- Panel E -->
<g id="panelE">
<rect class="pn" x="65" y="573" width="465" height="183" rx="30"/>
<text class="L" x="39" y="591">E</text>
<text class="t" x="504" y="752">Ferroptosis</text>
<g id="E-TFR1"><rect class="r" x="81" y="611" width="86" height="18.5"/><text class="g g2" x="124" y="624">TFR1</text>
<circle class="d" cx="100.6" cy="606" r="5"/><text class="l" transform="translate(100.6,598.5) rotate(-45)">134 (3.6)</text>
<circle class="d" cx="124.7" cy="606" r="5"/><text class="l" transform="translate(124.7,598.5) rotate(-45)">531 (2.3)</text>
<circle class="d" cx="141.6" cy="606" r="5"/><text class="l" transform="translate(141.6,598.5) rotate(-45)">665 (2.8)</text>
<circle class="d" cx="150.6" cy="606" r="5"/><text class="l" transform="translate(150.6,598.5) rotate(-45)">693 (2.8)</text></g>
<g id="E-SLC7A11"><rect class="r" x="180.5" y="611" width="86" height="18.5"/><text class="g g2" x="223.5" y="624">SLC7A11</text><circle class="d" cx="191.5" cy="606" r="5"/><text class="l" transform="translate(191.5,598.5) rotate(-45)">37 (1.5)</text></g>
<g id="E-PCBP1"><rect class="r" x="281" y="611" width="86" height="18.5"/><text class="g g2" x="324" y="624">PCBP1</text><circle class="d" cx="357.9" cy="606" r="5"/><text class="l" transform="translate(357.9,598.5) rotate(-45)">314 (2.0)</text></g>
<g id="E-VDAC3"><rect class="r" x="382" y="611" width="86" height="18.5"/><text class="g g2" x="425" y="624">VDAC3</text><circle class="d" cx="399.9" cy="606" r="5"/><text class="l" transform="translate(399.9,598.5) rotate(-45)">53 (1.5)</text></g>

<g id="E-PCBP2"><rect class="r" x="81" y="673.3" width="86" height="18.5"/><text class="g g2" x="124" y="686.3">PCBP2</text><circle class="d" cx="150.2" cy="668.3" r="5"/><text class="l" transform="translate(150.2,660.8) rotate(-45)">309 (1.9)</text></g>
<g id="E-FTL"><rect class="r" x="180.5" y="673.3" width="86" height="18.5"/><text class="g g2" x="223.5" y="686.3">FTL</text><circle class="d" cx="232.2" cy="668.3" r="5"/><text class="l" transform="translate(232.2,660.8) rotate(-45)">92 (2.3)</text></g>
<g id="E-NCOA4"><rect class="r" x="281" y="673.3" width="86" height="18.5"/><text class="g g2" x="324" y="686.3">NCOA4</text><circle class="d" cx="349.9" cy="668.3" r="5"/><text class="l" transform="translate(349.9,660.8) rotate(-45)">545 (2.4)</text></g>
<g id="E-ACSL4"><rect class="y" x="382" y="673.3" width="86" height="18.5"/><text class="g g2" x="425" y="686.3">ACSL4</text>
<circle class="d" cx="391.3" cy="668.3" r="5"/><text class="l" transform="translate(391.3,660.8) rotate(-45)">89 )1.5)</text>
<circle class="d" cx="424.3" cy="668.3" r="5"/><text class="l" transform="translate(424.3,660.8) rotate(-45)">354 (1.6)</text>
<circle class="d" cx="441.2" cy="668.3" r="5"/><text class="l" transform="translate(441.2,660.8) rotate(-45)">532 (2.0)</text></g>

<g id="E-GPX4"><rect class="y" x="81" y="736.7" width="86" height="18.5"/><text class="g g2" x="124" y="749.7">GPX4</text>
<circle class="d" cx="124.7" cy="731.7" r="5"/><text class="l" transform="translate(124.7,724.2) rotate(-45)">107 (1.6)</text>
<circle class="d" cx="141.6" cy="731.7" r="5"/><text class="l" transform="translate(141.6,724.2) rotate(-45)">148 (2.2)</text>
<circle class="d" cx="158.1" cy="731.7" r="5"/><text class="l" transform="translate(158.1,724.2) rotate(-45)">162 (-1.8)</text></g>
<g id="E-NOX2"><rect class="y" x="180.5" y="736.7" width="86" height="18.5"/><text class="g g2" x="223.5" y="749.7">NOX2</text>
<circle class="d" cx="244.2" cy="731.7" r="5"/><text class="l" transform="translate(244.2,724.2) rotate(-45)">438 (2.8)</text>
<circle class="d" cx="260.4" cy="731.7" r="5"/><text class="l" transform="translate(260.4,724.2) rotate(-45)">521 (-1.5)</text></g>
</g>

<!-- Panel F -->
<g id="panelF">
<rect class="pn" x="633" y="587" width="384" height="166" rx="30"/>
<text class="L" x="562" y="598">F</text>
<g id="F-ubiquitin"><text class="u" x="748.3" y="684">Ubiquitin system</text></g>
<g id="F-autophagy"><text class="f" x="660" y="618.5">Autophagy</text></g>
<g id="F-lysosome"><text class="f" x="781.7" y="618.5">Lysosome</text></g>
<g id="F-nfkb"><text class="f" x="895" y="618.5">NF-kB</text></g>
<g id="F-necroptosis"><text class="f" x="688.3" y="739.3">Necroptosis</text></g>
<g id="F-ferroptosis"><text class="f" x="840.7" y="739.3">Ferroptosis</text></g>
</g>

<g id="connectors">
<line class="c" x1="751.7" y1="656" x2="725.5" y2="628.2"/>
<line class="c" x1="812" y1="661.7" x2="810.8" y2="626.3"/>
<line class="c" x1="881" y1="661" x2="909.4" y2="627.5"/>
<line class="c" x1="770" y1="690" x2="744.6" y2="721.7"/>
<line class="c" x1="871.7" y1="692.7" x2="894.5" y2="724.4"/>
</g>
</svg>
